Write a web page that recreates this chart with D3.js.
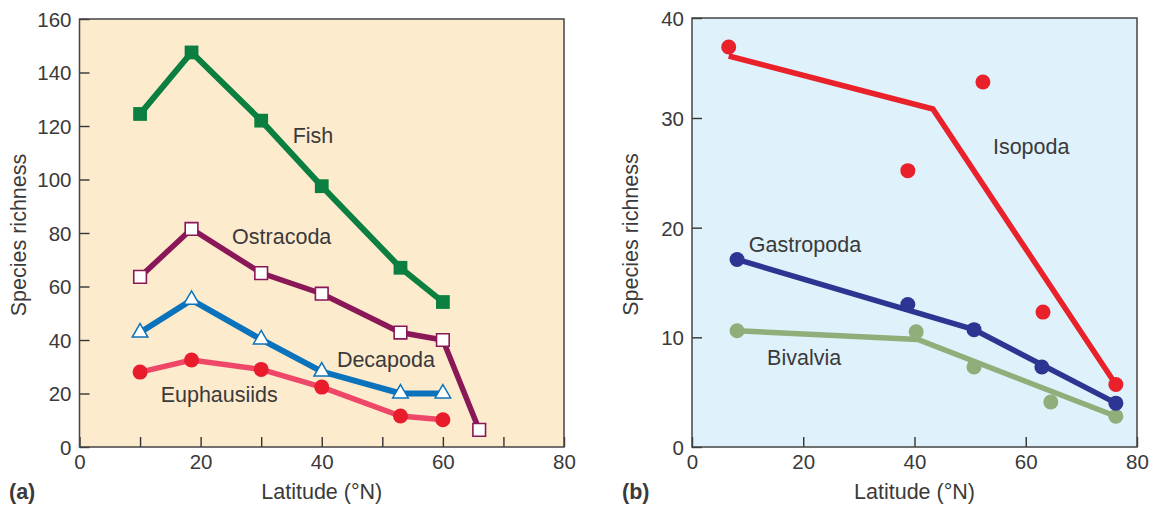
<!DOCTYPE html>
<html>
<head>
<meta charset="utf-8">
<script src="https://cdn.jsdelivr.net/npm/d3@7/dist/d3.min.js"></script>
<style>
  html, body { margin: 0; padding: 0; background: #ffffff; }
  svg { display: block; }
  text { font-family: "Liberation Sans", Arial, Helvetica, sans-serif; fill: #3a3a3a; }
</style>
</head>
<body>
<svg id="chart" width="1152" height="506"></svg>
<script>
// ---------- Data: panel (a) ----------
const fishLat   = [10, 18.5, 30, 40, 53, 60];
const fishRich  = [124.5, 147.5, 122, 97.5, 67, 54.2];
const ostraLat  = [10, 18.5, 30, 40, 53, 60, 66];
const ostraRich = [63.6, 81.5, 65, 57.3, 42.8, 40, 6.4];
const decaLat   = [10, 18.5, 30, 40, 53, 60];
const decaRich  = [42.8, 55, 40.2, 28.2, 20, 20];
const euphLat   = [10, 18.5, 30, 40, 53, 60];
const euphRich  = [28, 32.5, 29, 22.4, 11.6, 10.2];

// ---------- Data: panel (b) ----------
const isoLat      = [6.6, 38.8, 52.3, 63.1, 76.2];
const isoRich     = [37.1, 25.2, 33.6, 12.3, 5.7];
const isoFitLat   = [6.6, 43.3, 76.2];
const isoFitRich  = [36.2, 30.9, 5.7];
const gasLat      = [8.1, 38.8, 50.7, 62.9, 76.2];
const gasRich     = [17.1, 13.0, 10.7, 7.3, 4.0];
const gasFitLat   = [8.1, 50.7, 76.2];
const gasFitRich  = [17.1, 10.7, 4.0];
const bivLat      = [8.1, 40.3, 50.7, 64.5, 76.2];
const bivRich     = [10.6, 10.5, 7.3, 4.1, 2.8];
const bivFitLat   = [8.1, 40.6, 76.2];
const bivFitRich  = [10.6, 9.8, 2.8];

// ---------- Tick labels ----------
const aXTicks = [0, 10, 20, 30, 40, 50, 60, 70, 80];
const aXLabels = [0, 20, 40, 60, 80];
const aYTicks = [0, 20, 40, 60, 80, 100, 120, 140, 160];
const bXTicks = [0, 20, 40, 60, 80];
const bYTicks = [0, 10, 20, 30, 40];

const xTitle = "Latitude (°N)";
const yTitle = "Species richness";

// ---------- Layout ----------
const svg = d3.select("#chart");
const TICK_FONT = 20.5;
const FONT = 21.5;

function zip(a, b) { return a.map((v, i) => [v, b[i]]); }

function panel(opts) {
  const { x, y, bg, xTicks, xLabels, yTicks, tag } = opts;
  const g = svg.append("g");
  const [x0, x1] = x.range();
  const yb = y(y.domain()[0]);
  const yt = y(y.domain()[y.domain().length - 1]);

  g.append("rect")
    .attr("x", x0).attr("y", yt)
    .attr("width", x1 - x0).attr("height", yb - yt)
    .attr("fill", bg);

  // x axis (inward ticks)
  const xa = g.append("g")
    .attr("transform", `translate(0,${yb})`)
    .call(d3.axisBottom(x).tickValues(xTicks).tickSize(-10).tickPadding(7)
      .tickFormat(d => xLabels.includes(d) ? d : ""));
  // y axis (inward ticks)
  const ya = g.append("g")
    .attr("transform", `translate(${x0},0)`)
    .call(d3.axisLeft(y).tickValues(yTicks).tickSize(-10).tickPadding(8));
  [xa, ya].forEach(a => {
    a.select(".domain").remove();
    a.selectAll("line").attr("stroke", "#333").attr("stroke-width", 1.4);
    a.selectAll("text").attr("font-size", TICK_FONT)
      .attr("font-family", '"Liberation Sans", Arial, sans-serif')
      .attr("fill", "#3a3a3a");
  });
  ya.selectAll("text").attr("dy", "0.36em");

  // frame
  g.append("rect")
    .attr("x", x0).attr("y", yt)
    .attr("width", x1 - x0).attr("height", yb - yt)
    .attr("fill", "none").attr("stroke", "#444").attr("stroke-width", 1.5);

  // titles
  g.append("text")
    .attr("x", (x0 + x1) / 2).attr("y", 499)
    .attr("text-anchor", "middle").attr("font-size", FONT)
    .text(xTitle);
  g.append("text")
    .attr("transform", `translate(${opts.yTitleX},${(yt + yb) / 2 + 2}) rotate(-90)`)
    .attr("text-anchor", "middle").attr("font-size", FONT)
    .text(yTitle);
  g.append("text")
    .attr("x", opts.tagX).attr("y", 499)
    .attr("font-size", FONT).attr("font-weight", "bold")
    .attr("fill", "#222")
    .text(tag);
  return g;
}

// ---------- Panel (a) ----------
const xa = d3.scaleLinear().domain([0, 80]).range([79.5, 564]);
const ya = d3.scaleLinear().domain([0, 160]).range([447, 19]);
const ga = panel({ x: xa, y: ya, bg: "#fdebce", xTicks: aXTicks, xLabels: aXLabels,
                   yTicks: aYTicks, tag: "(a)", yTitleX: 26, tagX: 9 });

const lineA = d3.line().x(d => xa(d[0])).y(d => ya(d[1]));
const sym = (type, size) => d3.symbol().type(type).size(size)();

function seriesA(lat, rich, lineColor, width, drawMarker) {
  const pts = zip(lat, rich);
  ga.append("path").attr("d", lineA(pts)).attr("fill", "none")
    .attr("stroke", lineColor).attr("stroke-width", width)
    .attr("stroke-linejoin", "miter");
  pts.forEach(p => drawMarker(ga, xa(p[0]), ya(p[1])));
}

// Euphausiids
seriesA(euphLat, euphRich, "#ee4767", 5.5, (g, cx, cy) =>
  g.append("circle").attr("cx", cx).attr("cy", cy).attr("r", 7.5).attr("fill", "#e91c2c"));
// Decapoda
seriesA(decaLat, decaRich, "#0b73bb", 6, (g, cx, cy) =>
  g.append("path").attr("d", sym(d3.symbolTriangle, 105))
    .attr("transform", `translate(${cx},${cy})`)
    .attr("fill", "#ffffff").attr("stroke", "#0b73bb").attr("stroke-width", 1.5));
// Ostracoda
seriesA(ostraLat, ostraRich, "#8a1757", 5.5, (g, cx, cy) =>
  g.append("path").attr("d", sym(d3.symbolSquare, 160))
    .attr("transform", `translate(${cx},${cy})`)
    .attr("fill", "#ffffff").attr("stroke", "#8a1757").attr("stroke-width", 1.6));
// Fish
seriesA(fishLat, fishRich, "#0a7f3f", 6, (g, cx, cy) =>
  g.append("path").attr("d", sym(d3.symbolSquare, 190))
    .attr("transform", `translate(${cx},${cy})`)
    .attr("fill", "#0a7f3f"));

const labelsA = [
  { t: "Fish", x: 35.2, y: 113.6 },
  { t: "Ostracoda", x: 25.2, y: 75.9 },
  { t: "Decapoda", x: 42.5, y: 29.9 },
  { t: "Euphausiids", x: 13.4, y: 16.8 }
];
labelsA.forEach(l => ga.append("text").attr("x", xa(l.x)).attr("y", ya(l.y))
  .attr("font-size", FONT).text(l.t));

// ---------- Panel (b) ----------
const xb = d3.scaleLinear().domain([0, 80]).range([692, 1137]);
const yb = d3.scaleLinear().domain([0, 30, 40]).range([447, 118, 18]);
const gb = panel({ x: xb, y: yb, bg: "#dff1fb", xTicks: bXTicks, xLabels: bXTicks,
                   yTicks: bYTicks, tag: "(b)", yTitleX: 638, tagX: 622 });

const lineB = d3.line().x(d => xb(d[0])).y(d => yb(d[1]));
function seriesB(fitLat, fitRich, lat, rich, color) {
  gb.append("path").attr("d", lineB(zip(fitLat, fitRich))).attr("fill", "none")
    .attr("stroke", color).attr("stroke-width", 5.5);
  zip(lat, rich).forEach(p => gb.append("circle")
    .attr("cx", xb(p[0])).attr("cy", yb(p[1])).attr("r", 7.5).attr("fill", color));
}
seriesB(bivFitLat, bivFitRich, bivLat, bivRich, "#8fae79");
seriesB(gasFitLat, gasFitRich, gasLat, gasRich, "#2c3592");
seriesB(isoFitLat, isoFitRich, isoLat, isoRich, "#e8212a");

const labelsB = [
  { t: "Isopoda", x: 54.1, y: 26.7 },
  { t: "Gastropoda", x: 10.2, y: 17.8 },
  { t: "Bivalvia", x: 13.5, y: 7.5 }
];
labelsB.forEach(l => gb.append("text").attr("x", xb(l.x)).attr("y", yb(l.y))
  .attr("font-size", FONT).text(l.t));
</script>
</body>
</html>
